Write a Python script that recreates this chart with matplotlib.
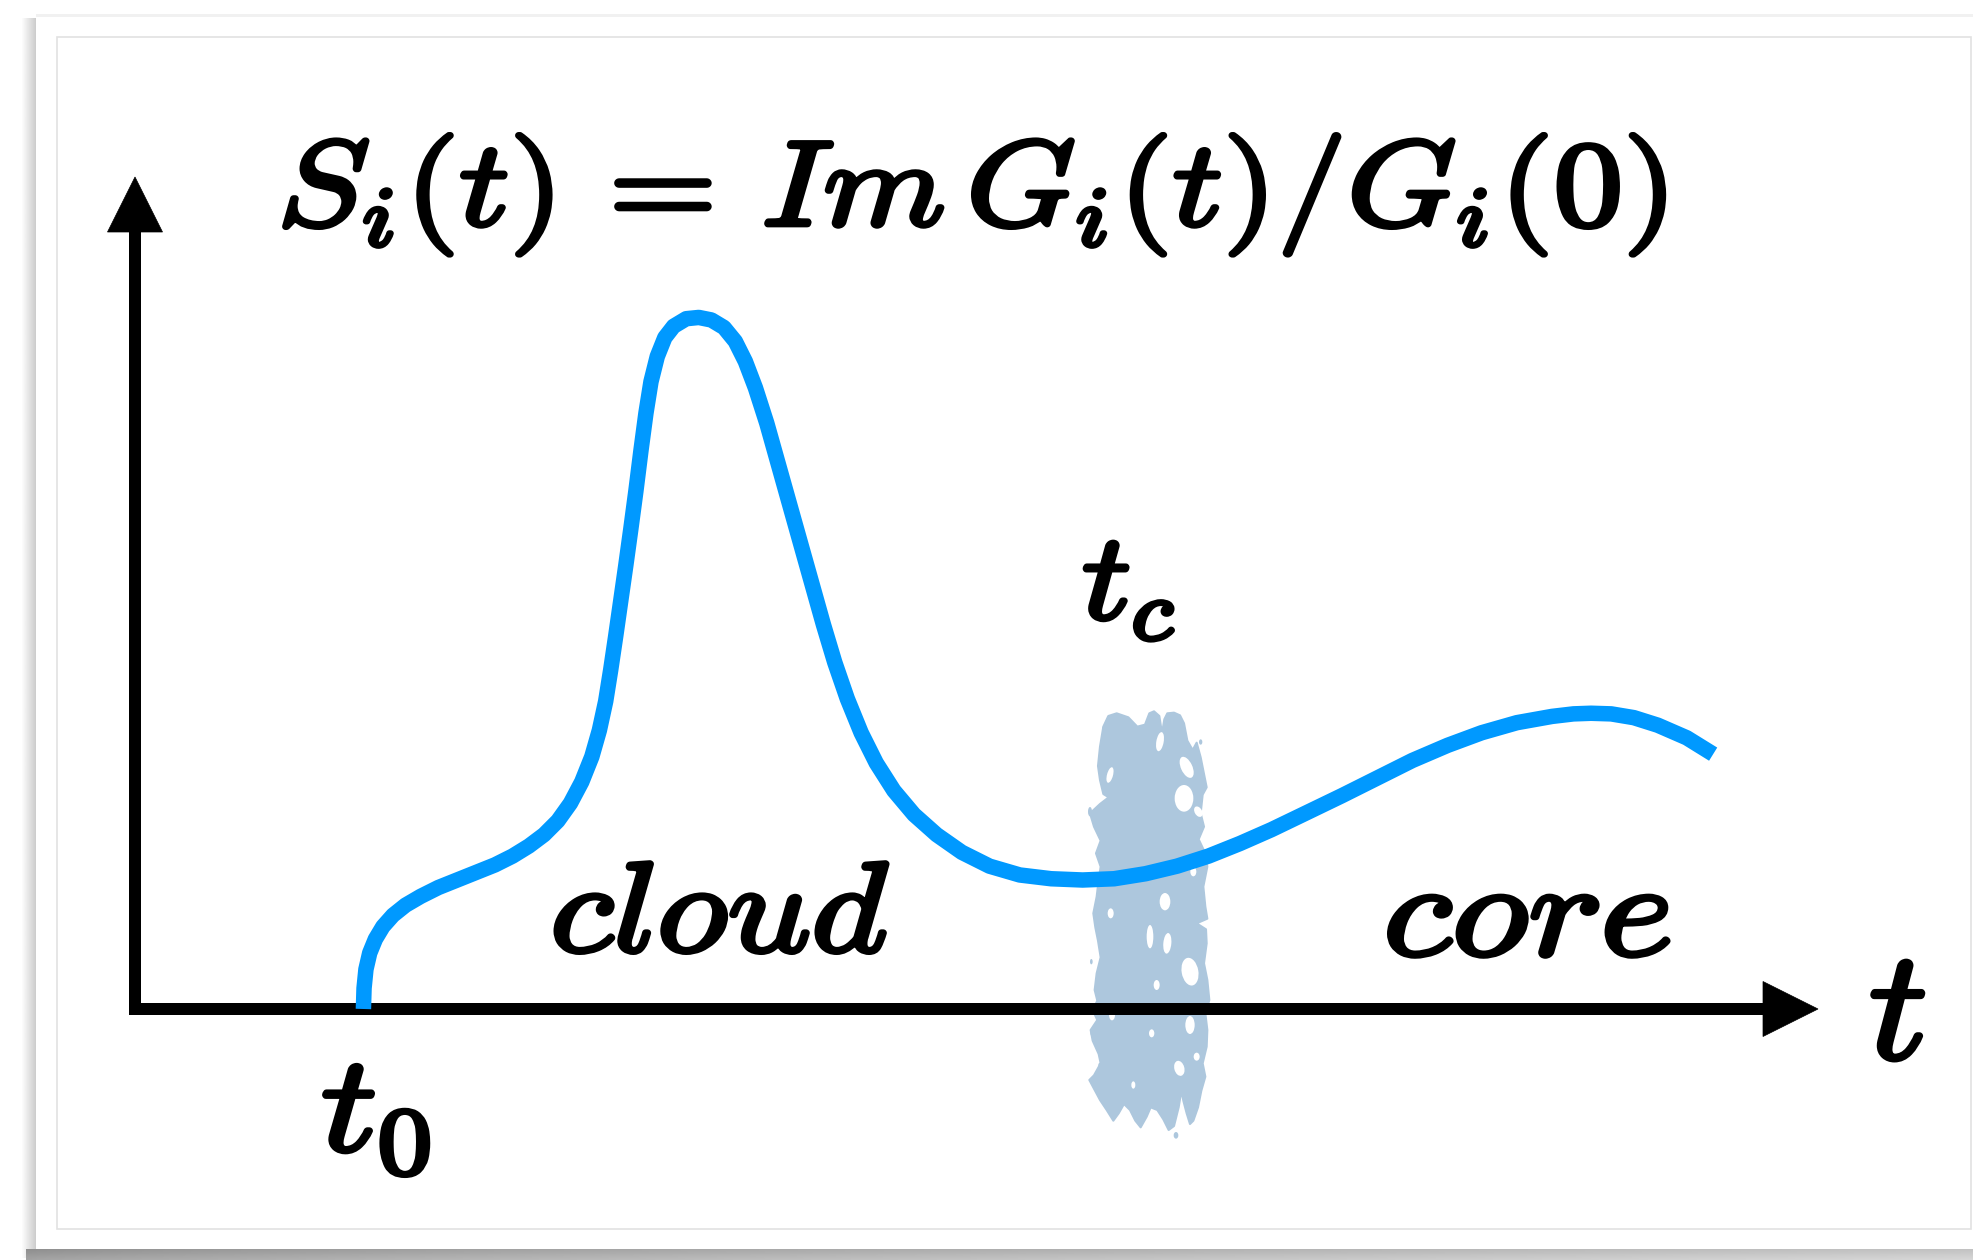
import numpy as np
import matplotlib
matplotlib.use("Agg")
import matplotlib.pyplot as plt
from matplotlib.patches import Polygon, Ellipse, Rectangle
from matplotlib.transforms import Affine2D
import matplotlib.patheffects as pe

plt.rcParams['mathtext.fontset'] = 'cm'

# ---- signal S_i(t) (sketch units: 1 unit = one grid step on both axes) ----
t_vals = [1.815, 1.82, 1.835, 1.865, 1.91, 1.97, 2.05, 2.15, 2.27, 2.41, 2.56,
          2.71, 2.86, 3.00, 3.13, 3.25, 3.36, 3.46, 3.55, 3.63, 3.69, 3.74, 3.78,
          3.82, 3.86, 3.90, 3.94, 3.98, 4.02, 4.06, 4.10, 4.15, 4.21, 4.28, 4.38,
          4.48, 4.58, 4.68, 4.77, 4.85, 4.93, 5.02, 5.11, 5.20, 5.29, 5.38, 5.47,
          5.56, 5.66, 5.77, 5.89, 6.03, 6.19, 6.37, 6.57, 6.79, 7.03, 7.28, 7.53,
          7.78, 8.03, 8.28, 8.53, 8.78, 9.03, 9.30, 9.59, 9.87, 10.15, 10.43,
          10.70, 10.98, 11.26, 11.43, 11.57, 11.73, 11.91, 12.10, 12.33, 12.54]
s_vals = [0.0, 0.165, 0.315, 0.445, 0.555, 0.655, 0.745, 0.825, 0.895, 0.965,
          1.025, 1.085, 1.145, 1.215, 1.295, 1.385, 1.495, 1.635, 1.805, 2.005,
          2.215, 2.445, 2.695, 2.965, 3.245, 3.525, 3.815, 4.115, 4.435, 4.735,
          4.985, 5.185, 5.335, 5.425, 5.485, 5.495, 5.475, 5.415, 5.305, 5.145,
          4.935, 4.655, 4.335, 4.015, 3.695, 3.375, 3.055, 2.755, 2.465, 2.195,
          1.955, 1.735, 1.545, 1.385, 1.245, 1.135, 1.065, 1.035, 1.025, 1.035,
          1.075, 1.135, 1.215, 1.315, 1.425, 1.555, 1.695, 1.835, 1.975, 2.095,
          2.195, 2.275, 2.325, 2.345, 2.35, 2.345, 2.315, 2.255, 2.155, 2.025]

# ---- labels ----
title_tex = r'$S_i(t)\,=\,Im\,G_i(t)/G_i(0)$'
label_tc = r'$t_c$'
label_t0 = r'$t_0$'
label_t = r'$t$'
label_cloud = r'$cloud$'
label_core = r'$core$'

# ---- splash marking the crossover region (outline on a local sketch grid) ----
splash_outline = [
    (150, 200), (160, 140), (175, 108), (200, 100), (235, 112), (262, 140),
    (285, 134), (298, 100), (312, 94), (328, 108), (336, 160), (343, 118),
    (352, 100), (372, 98), (390, 106), (402, 130), (412, 182), (428, 210),
    (440, 188), (452, 232), (462, 282), (470, 322), (458, 344), (452, 400),
    (462, 440), (446, 478), (466, 520), (472, 560), (460, 620), (466, 680),
    (472, 716), (440, 730), (468, 748), (470, 790), (462, 850), (472, 900),
    (478, 960), (466, 1000), (472, 1050), (470, 1100), (458, 1150), (466, 1190),
    (454, 1232), (444, 1282), (430, 1322), (420, 1332), (410, 1300), (400, 1262),
    (394, 1232), (386, 1282), (372, 1338), (356, 1350), (340, 1318), (322, 1290),
    (302, 1282), (290, 1310), (272, 1342), (256, 1322), (240, 1290), (222, 1272),
    (206, 1300), (190, 1322), (170, 1290), (150, 1260), (134, 1230), (118, 1200),
    (132, 1186), (152, 1150), (146, 1122), (128, 1082), (122, 1050), (142, 1020),
    (128, 990), (142, 962), (134, 930), (140, 880), (152, 832), (144, 782),
    (136, 742), (130, 700), (140, 650), (146, 600), (152, 560), (138, 520),
    (152, 482), (132, 440), (120, 400), (150, 372), (176, 352), (160, 342),
    (150, 300), (144, 258)]
# holes: (centre u, centre v, width, height, angle)
splash_holes = [
    (330, 185, 22, 58, -10), (410, 262, 34, 68, 25), (402, 355, 56, 80, 0),
    (445, 395, 22, 34, 30), (180, 285, 18, 48, -15), (345, 665, 32, 52, 0),
    (182, 700, 18, 30, 0), (420, 875, 50, 84, 10), (300, 770, 20, 70, 0),
    (352, 790, 24, 62, -5), (420, 1035, 28, 54, 0), (388, 1165, 30, 46, 15),
    (186, 1005, 18, 32, 0), (440, 1130, 18, 24, 0), (320, 915, 18, 30, 0),
    (250, 1215, 12, 22, 0), (430, 575, 18, 28, 0), (305, 1060, 16, 24, 0)]
# stray droplets around the splash: (u, v, width, height)
splash_drops = [(120, 395, 12, 28), (126, 1058, 10, 20), (162, 145, 10, 14),
                (452, 186, 10, 16), (378, 1366, 14, 20), (124, 845, 8, 16),
                (150, 1155, 10, 14)]

# ---- figure geometry ----
W, H, DPI = 1973, 1260, 100
ORIGIN_X, ORIGIN_Y = 135.0, 1009.0      # pixel position of (t=0, S=0)
UNIT = 125.85                           # pixels per sketch unit
BLUE = '#0099ff'
SPLASH = '#adc7dd'

fig = plt.figure(figsize=(W / DPI, H / DPI), dpi=DPI)
fig.patch.set_facecolor('white')

# framed card with soft drop shadow (pixel coordinates)
bg = fig.add_axes([0, 0, 1, 1])
bg.set_xlim(0, W)
bg.set_ylim(H, 0)
bg.axis('off')
left_grad = np.linspace(0.99, 0.80, 40)[None, :]
bg.imshow(left_grad, extent=[22, 36, 1258, 18], cmap='gray', vmin=0, vmax=1,
          aspect='auto', interpolation='bilinear', zorder=0)
xx = np.linspace(0, 1, 200)[None, :]
yy = np.linspace(0, 1, 12)[:, None]
bottom_grad = 0.56 + 0.2 * xx ** 0.7 + 0.08 * yy
bg.imshow(bottom_grad, extent=[26, W, H, 1249], cmap='gray', vmin=0, vmax=1,
          aspect='auto', interpolation='bilinear', zorder=0)
bg.add_patch(Rectangle((36, 16), W - 36, 1249 - 16, facecolor='white',
                       edgecolor='none', zorder=1))
bg.add_patch(Rectangle((36, 14), W - 36, 3, facecolor='#f1f1f1',
                       edgecolor='none', zorder=1))
bg.add_patch(Rectangle((57, 37), 1914, 1229 - 37, fill=False,
                       edgecolor='#e2e2e2', lw=1.2, zorder=2))

# sketch axes in data units
ax = fig.add_axes([0, 0, 1, 1])
ax.patch.set_alpha(0)
ax.set_xlim(-ORIGIN_X / UNIT, (W - ORIGIN_X) / UNIT)
ax.set_ylim((ORIGIN_Y - H) / UNIT, ORIGIN_Y / UNIT)
ax.axis('off')


def grid_to_data(u, v):
    px = 1050 + np.asarray(u, dtype=float) / 3.0
    py = 680 + np.asarray(v, dtype=float) / 3.0
    return (px - ORIGIN_X) / UNIT, (ORIGIN_Y - py) / UNIT


ou, ov = zip(*splash_outline)
sx, sy = grid_to_data(ou, ov)
ax.add_patch(Polygon(np.column_stack([sx, sy]), closed=True, facecolor=SPLASH,
                     edgecolor=SPLASH, lw=1.5, joinstyle='round', zorder=2))
for u, v, w, h, a in splash_holes:
    x, y = grid_to_data(u, v)
    ax.add_patch(Ellipse((x, y), w / 3.0 / UNIT, h / 3.0 / UNIT, angle=a,
                         facecolor='white', edgecolor='none', zorder=2.5))
for u, v, w, h in splash_drops:
    x, y = grid_to_data(u, v)
    ax.add_patch(Ellipse((x, y), w / 3.0 / UNIT, h / 3.0 / UNIT,
                         facecolor=SPLASH, edgecolor='none', zorder=2))

# axes arrows
axis_lw = 12 * 72 / DPI
half = 6 / UNIT
head_len = 55 / UNIT
head_hw = 27.5 / UNIT
x_tip = (1818 - ORIGIN_X) / UNIT
y_tip = (ORIGIN_Y - 177) / UNIT
ax.plot([-half, x_tip - head_len + 0.02], [0, 0], color='black', lw=axis_lw,
        solid_capstyle='butt', zorder=3)
ax.plot([0, 0], [-half, y_tip - head_len + 0.02], color='black', lw=axis_lw,
        solid_capstyle='butt', zorder=3)
ax.add_patch(Polygon([[x_tip - head_len, -head_hw], [x_tip, 0],
                      [x_tip - head_len, head_hw]], closed=True,
                     facecolor='black', edgecolor='black', lw=0.5, zorder=3))
ax.add_patch(Polygon([[-head_hw, y_tip - head_len], [0, y_tip],
                      [head_hw, y_tip - head_len]], closed=True,
                     facecolor='black', edgecolor='black', lw=0.5, zorder=3))

# the signal
ax.plot(t_vals, s_vals, color=BLUE, lw=15.5 * 72 / DPI, solid_capstyle='butt',
        solid_joinstyle='round', zorder=4)


class WideBold(pe.AbstractPathEffect):
    """Heavier, horizontally widened glyphs (bold math italic look)."""

    def __init__(self, stretch=1.0, weight=3.4):
        super().__init__()
        self._stretch = stretch
        self._weight = weight

    def draw_path(self, renderer, gc, tpath, affine, rgbFace=None):
        x0, y0 = affine.transform((0, 0))
        wide = affine + Affine2D().translate(-x0, -y0).scale(self._stretch, 1.0) \
            .translate(x0, y0)
        gc0 = renderer.new_gc()
        gc0.copy_properties(gc)
        gc0.set_linewidth(self._weight)
        gc0.set_foreground('black')
        gc0.set_joinstyle('round')
        renderer.draw_path(gc0, tpath, wide, rgbFace)
        gc0.restore()


def px_to_data(px, py):
    return (px - ORIGIN_X) / UNIT, (ORIGIN_Y - py) / UNIT


def put(label, px, py, size, stretch):
    x, y = px_to_data(px, py)
    ax.text(x, y, label, fontsize=size, ha='left', va='baseline', color='black',
            path_effects=[WideBold(stretch)], zorder=5)


put(title_tex, 277, 225, 87, 1.155)
put(label_tc, 1082, 619, 88, 1.12)
put(label_cloud, 550, 952, 92, 1.145)
put(label_core, 1383, 956, 96, 1.19)
put(label_t, 1869, 1059, 112, 1.05)
put(label_t0, 321, 1151, 98, 1.15)

fig.savefig('out.png', dpi=DPI, facecolor=fig.get_facecolor())
